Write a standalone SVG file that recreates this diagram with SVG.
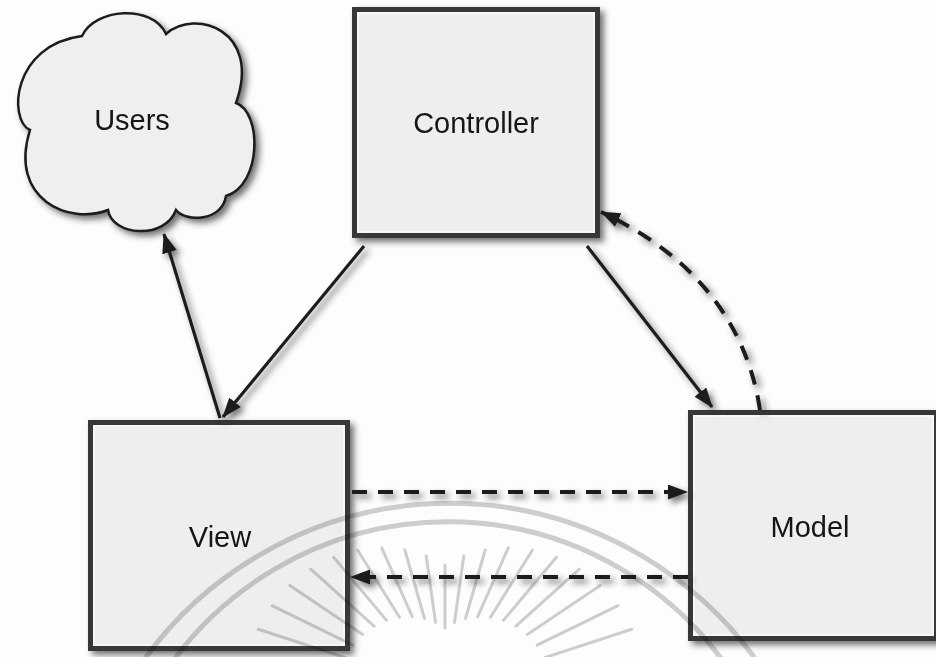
<svg xmlns="http://www.w3.org/2000/svg" width="936" height="657" viewBox="0 0 936 657">
  <style>
    .box { fill: #eeeeee; stroke: #383838; stroke-width: 5; }
    .inner { fill: none; stroke: #fafafa; stroke-width: 1.5; }
    .cloud { fill: #efefef; stroke: #1e1e1e; stroke-width: 2.5; }
    .label { font-family: "Liberation Sans", Arial, sans-serif; font-size: 29px; fill: #151515; text-anchor: middle; }
    .solid { fill: none; stroke: #1e1e1e; stroke-width: 3.2; }
    .dashed { fill: none; stroke: #1e1e1e; stroke-width: 4; stroke-dasharray: 15 11; }
    .mark { fill: none; stroke: #cfcfcf; stroke-linecap: round; }
  </style>
  <defs>
    <filter id="shadow" filterUnits="userSpaceOnUse" x="0" y="0" width="936" height="657">
      <feGaussianBlur in="SourceAlpha" stdDeviation="3"/>
      <feOffset dx="4" dy="4" result="blur"/>
      <feFlood flood-color="#2a2a2a" flood-opacity="0.65"/>
      <feComposite in2="blur" operator="in"/>
      <feMerge>
        <feMergeNode/>
        <feMergeNode in="SourceGraphic"/>
      </feMerge>
    </filter>
    <marker id="arrow" viewBox="0 0 20 15" refX="19" refY="7.5" markerWidth="20" markerHeight="15" markerUnits="userSpaceOnUse" orient="auto">
      <path d="M0,0 L20,7.5 L0,15 Z" fill="#1e1e1e"/>
    </marker>
  </defs>

  <rect x="0" y="0" width="936" height="657" fill="#fdfdfd"/>

  <!-- nodes -->
  <g id="users" filter="url(#shadow)">
    <path class="cloud" d="M 30 130 C 8 120, 12 45, 82 36 C 95 8, 152 4, 166 34 C 195 8, 262 30, 236 103 C 262 112, 262 185, 226 196 C 222 222, 185 222, 176 210 C 165 240, 112 236, 108 210 C 70 225, 8 200, 30 130 Z"/>
    <text class="label" x="132" y="130">Users</text>
  </g>

  <g id="controller" filter="url(#shadow)">
    <rect class="box" x="354.5" y="9.5" width="243" height="226"/>
    <rect class="inner" x="358" y="13" width="236" height="219"/>
    <text class="label" x="476" y="133">Controller</text>
  </g>

  <g id="view" filter="url(#shadow)">
    <rect class="box" x="90.5" y="422.5" width="257" height="226"/>
    <rect class="inner" x="94" y="426" width="250" height="219"/>
    <text class="label" x="220" y="547">View</text>
  </g>

  <g id="model" filter="url(#shadow)">
    <rect class="box" x="690.5" y="412.5" width="246" height="226"/>
    <rect class="inner" x="694" y="416" width="239" height="219"/>
    <text class="label" x="810" y="537">Model</text>
  </g>

  <!-- faint seal printed across the lower half -->
  <g id="seal" style="mix-blend-mode:multiply">
    <path class="mark" stroke-width="5" d="M 120 698 A 377 377 0 0 1 780 698"/>
    <path class="mark" stroke-width="5" d="M 150 697 A 341 341 0 0 1 746 697"/>
    <g stroke-width="3">
      <line class="mark" x1="544.7" y1="657.6" x2="631.7" y2="629.3"/>
      <line class="mark" x1="537.1" y1="645.1" x2="618" y2="605.7"/>
      <line class="mark" x1="527.3" y1="634.5" x2="600.2" y2="585.4"/>
      <line class="mark" x1="515.9" y1="626.2" x2="579.3" y2="569.1"/>
      <line class="mark" x1="503.4" y1="620.4" x2="556.4" y2="557.3"/>
      <line class="mark" x1="490.5" y1="617.2" x2="532.3" y2="550.2"/>
      <line class="mark" x1="477.7" y1="616.6" x2="508.3" y2="547.9"/>
      <line class="mark" x1="465.5" y1="618.5" x2="485.2" y2="550"/>
      <line class="mark" x1="454.5" y1="622.4" x2="463.8" y2="556"/>
      <line class="mark" x1="445" y1="628" x2="445" y2="565"/>
      <line class="mark" x1="435.5" y1="622.4" x2="426.2" y2="556"/>
      <line class="mark" x1="424.5" y1="618.5" x2="404.8" y2="550"/>
      <line class="mark" x1="412.3" y1="616.6" x2="381.7" y2="547.9"/>
      <line class="mark" x1="399.5" y1="617.2" x2="357.7" y2="550.2"/>
      <line class="mark" x1="386.6" y1="620.4" x2="333.6" y2="557.3"/>
      <line class="mark" x1="374.1" y1="626.2" x2="310.7" y2="569.1"/>
      <line class="mark" x1="362.7" y1="634.5" x2="289.8" y2="585.4"/>
      <line class="mark" x1="352.9" y1="645.1" x2="272" y2="605.7"/>
      <line class="mark" x1="345.3" y1="657.6" x2="258.3" y2="629.3"/>
    </g>
  </g>

  <!-- connectors -->
  <g id="connectors" filter="url(#shadow)">
    <path class="solid" d="M 220 418 L 164 234" marker-end="url(#arrow)"/>
    <path class="solid" d="M 364 246 L 223 417" marker-end="url(#arrow)"/>
    <path class="solid" d="M 587 246 L 712 407" marker-end="url(#arrow)"/>
    <path class="dashed" d="M 760 410 C 748 330, 700 258, 601 212" marker-end="url(#arrow)"/>
    <path class="dashed" d="M 352 492 L 687 492" marker-end="url(#arrow)"/>
    <path class="dashed" d="M 688 577 L 351 577" marker-end="url(#arrow)"/>
  </g>
</svg>
